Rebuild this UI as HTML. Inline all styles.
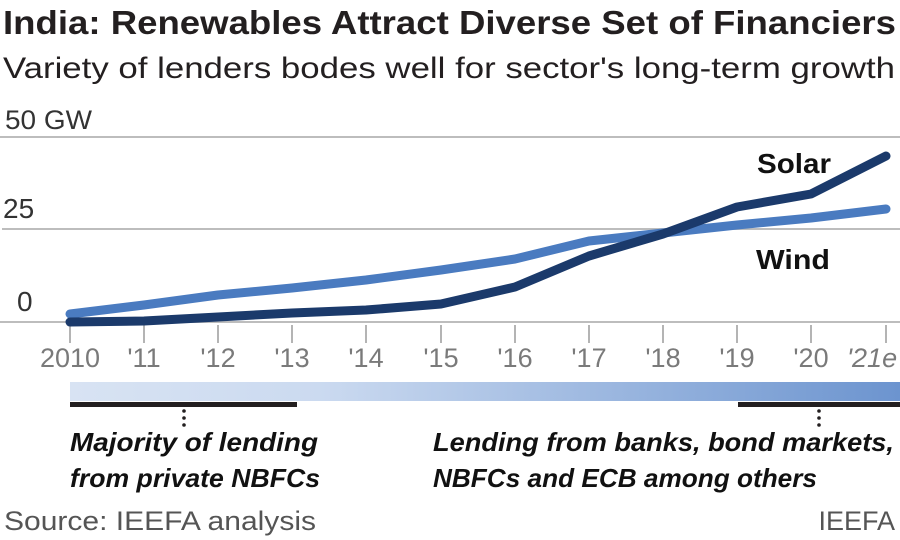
<!DOCTYPE html>
<html><head><meta charset="utf-8"><style>
html,body{margin:0;padding:0;background:#fff;width:900px;height:540px;overflow:hidden}
svg{display:block}
text{font-family:"Liberation Sans",sans-serif}
</style></head><body>
<svg width="900" height="540" viewBox="0 0 900 540">
<defs><linearGradient id="g" x1="0" x2="1" y1="0" y2="0">
<stop offset="0" stop-color="#d8e3f3"/><stop offset="0.3" stop-color="#cbdaf0"/><stop offset="1" stop-color="#6c94cf"/></linearGradient></defs>
<text x="3" y="34" font-size="33" font-weight="bold" fill="#231f20" textLength="893" lengthAdjust="spacingAndGlyphs">India: Renewables Attract Diverse Set of Financiers</text>
<text x="3" y="78" font-size="30" fill="#231f20" textLength="892" lengthAdjust="spacingAndGlyphs">Variety of lenders bodes well for sector's long-term growth</text>
<g stroke="#bdbdbd" stroke-width="2">
<line x1="0" y1="137" x2="900" y2="137"/><line x1="2" y1="229" x2="900" y2="229"/><line x1="0" y1="322" x2="900" y2="322"/></g>
<text x="5" y="129" font-size="27" fill="#333" textLength="87" lengthAdjust="spacingAndGlyphs">50 GW</text>
<text x="3" y="218" font-size="28" fill="#333">25</text>
<text x="17" y="311" font-size="28" fill="#333">0</text>
<g stroke="#9a9a9a" stroke-width="1.5">
<line x1="70" y1="325" x2="70" y2="343"/><line x1="144" y1="325" x2="144" y2="343"/><line x1="218" y1="325" x2="218" y2="343"/><line x1="292" y1="325" x2="292" y2="343"/><line x1="366" y1="325" x2="366" y2="343"/><line x1="441" y1="325" x2="441" y2="343"/><line x1="515" y1="325" x2="515" y2="343"/><line x1="589" y1="325" x2="589" y2="343"/><line x1="663" y1="325" x2="663" y2="343"/><line x1="737" y1="325" x2="737" y2="343"/><line x1="811" y1="325" x2="811" y2="343"/><line x1="886" y1="325" x2="886" y2="343"/></g>
<g font-size="27" fill="#7a7a7a" text-anchor="middle">
<text x="70" y="367">2010</text><text x="144" y="367">'11</text><text x="218" y="367">'12</text><text x="292" y="367">'13</text><text x="366" y="367">'14</text><text x="441" y="367">'15</text><text x="515" y="367">'16</text><text x="589" y="367">'17</text><text x="663" y="367">'18</text><text x="737" y="367">'19</text><text x="811" y="367">'20</text><text x="872" y="367" font-style="italic">'21e</text></g>
<polyline fill="none" stroke="#4a7bc0" stroke-width="9" stroke-linecap="round" stroke-linejoin="round" points="70,314 144,305 218,295 292,288 366,280 441,270 515,259 589,241 663,233 737,225 811,218 886,209"/>
<polyline fill="none" stroke="#1b3a6b" stroke-width="9" stroke-linecap="round" stroke-linejoin="round" points="70,322 144,321 218,317 292,313 366,310 441,304 515,287 589,256 663,234 737,207 811,194 886,156"/>
<text x="757" y="173" font-size="28" font-weight="bold" fill="#111" textLength="74" lengthAdjust="spacingAndGlyphs">Solar</text>
<text x="756" y="269" font-size="28" font-weight="bold" fill="#111" textLength="74" lengthAdjust="spacingAndGlyphs">Wind</text>
<rect x="70" y="382" width="830" height="19" fill="url(#g)"/>
<rect x="70" y="402" width="227" height="5" fill="#231f20"/>
<rect x="738" y="402" width="162" height="5" fill="#231f20"/>
<g fill="#231f20"><circle cx="184" cy="411" r="1.8"/><circle cx="184" cy="418" r="1.8"/><circle cx="184" cy="425" r="1.8"/>
<circle cx="819" cy="411" r="1.8"/><circle cx="819" cy="418" r="1.8"/><circle cx="819" cy="425" r="1.8"/></g>
<g font-size="26" font-style="italic" font-weight="bold" fill="#111">
<text x="70" y="451" textLength="248" lengthAdjust="spacingAndGlyphs">Majority of lending</text>
<text x="70" y="487" textLength="250" lengthAdjust="spacingAndGlyphs">from private NBFCs</text>
<text x="433" y="451" textLength="461" lengthAdjust="spacingAndGlyphs">Lending from banks, bond markets,</text>
<text x="433" y="487" textLength="384" lengthAdjust="spacingAndGlyphs">NBFCs and ECB among others</text></g>
<text x="4" y="530" font-size="27" fill="#555" textLength="312" lengthAdjust="spacingAndGlyphs">Source: IEEFA analysis</text>
<text x="895" y="530" font-size="27" fill="#555" text-anchor="end">IEEFA</text>
</svg>
</body></html>
